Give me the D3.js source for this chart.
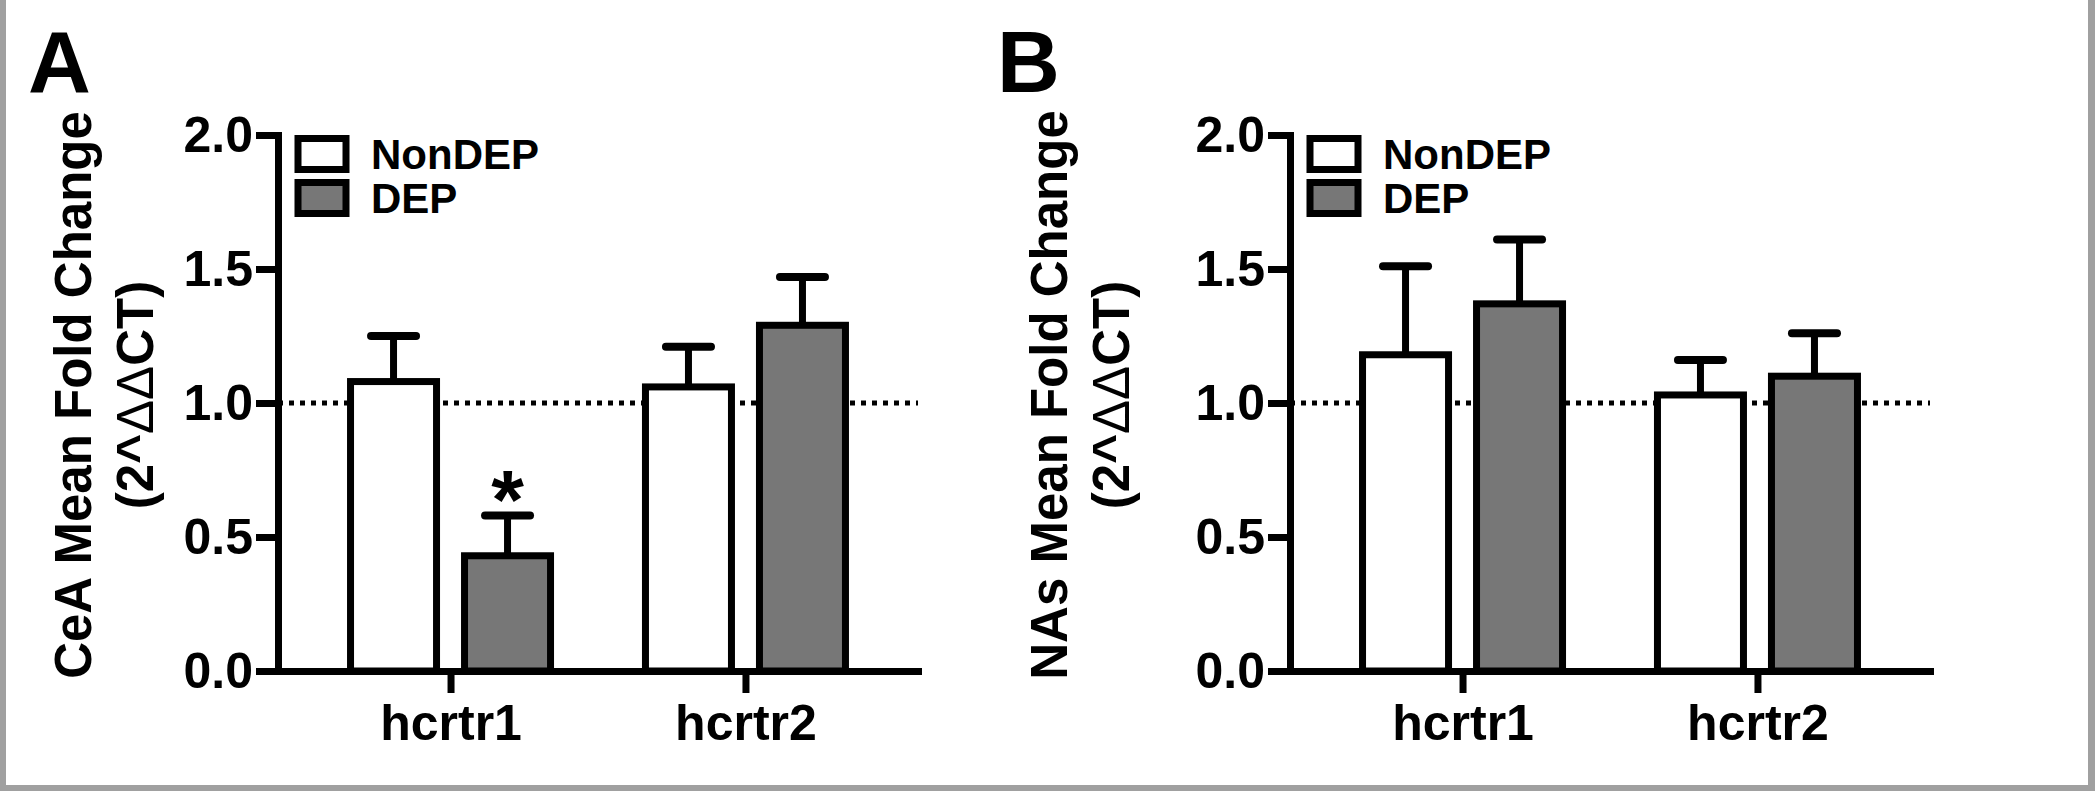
<!DOCTYPE html>
<html>
<head>
<meta charset="utf-8">
<script src="https://cdn.jsdelivr.net/npm/d3@7"></script>
<style>
  html, body { margin: 0; padding: 0; background: #fff; }
  svg { display: block; }
  text { font-family: "Liberation Sans", Arial, sans-serif; font-weight: bold; fill: #000; }
</style>
</head>
<body>
<svg id="chart" width="2095" height="791"></svg>
<script>
// ---------------- data ----------------
const categories = ["hcrtr1", "hcrtr2"];
const seriesNames = ["NonDEP", "DEP"];
const seriesFill = ["#ffffff", "#777777"];
const yTicks = [0, 0.5, 1.0, 1.5, 2.0];
const yTickLabels = ["0.0", "0.5", "1.0", "1.5", "2.0"];
const referenceLevel = 1.0;

// Panel A: CeA
const ceaNonDEP = [1.08, 1.06];
const ceaNonDEPsem = [0.17, 0.15];
const ceaDEP = [0.43, 1.29];
const ceaDEPsem = [0.15, 0.18];
// significance marks, indexed category*2 + series (hcrtr1 NonDEP, hcrtr1 DEP, hcrtr2 NonDEP, hcrtr2 DEP)
const ceaStars = ["", "*", "", ""];
// Panel B: NAs
const nasNonDEP = [1.18, 1.03];
const nasNonDEPsem = [0.33, 0.13];
const nasDEP = [1.37, 1.10];
const nasDEPsem = [0.24, 0.16];
const nasStars = ["", "", "", ""];

const panels = [
  { letter: "A", title: "CeA Mean Fold Change", means: [ceaNonDEP, ceaDEP], sems: [ceaNonDEPsem, ceaDEPsem], stars: ceaStars,
    letterX: 28, titleX: 91, axisX: 278 },
  { letter: "B", title: "NAs Mean Fold Change", means: [nasNonDEP, nasDEP], sems: [nasNonDEPsem, nasDEPsem], stars: nasStars,
    letterX: 997, titleX: 1067, axisX: 1290 }
];

// ---------------- layout ----------------
const svg = d3.select("#chart");
const W = 2095, H = 791;
svg.append("rect").attr("x", 0).attr("y", 0).attr("width", W).attr("height", H).attr("fill", "#fff");
// grey frame (left, right, bottom)
svg.append("rect").attr("x", 0).attr("y", 0).attr("width", 6).attr("height", H).attr("fill", "#a0a0a0");
svg.append("rect").attr("x", W - 7).attr("y", 0).attr("width", 7).attr("height", H).attr("fill", "#a0a0a0");
svg.append("rect").attr("x", 0).attr("y", H - 6).attr("width", W).attr("height", 6).attr("fill", "#a0a0a0");

const yTop = 135, yBottom = 671;
const plotW = 640;
const SW = 7;           // line weight
const barW = 86;        // bar width (stroke centre-line)
const capW = 45;

const y = d3.scaleLinear().domain([0, 2]).range([yBottom, yTop]);

panels.forEach(p => {
  const g = svg.append("g");
  const x = d3.scalePoint().domain(categories).range([p.axisX, p.axisX + plotW]).padding(0.585);
  const xSub = d3.scaleBand().domain(seriesNames).range([-114, 114]);

  // panel letter
  g.append("text").attr("x", p.letterX).attr("y", 92).attr("font-size", 87).text(p.letter);

  // y title (two lines)
  const cy = 395;
  g.append("text")
    .attr("transform", `translate(${p.titleX},${cy}) rotate(-90)`)
    .attr("text-anchor", "middle").attr("font-size", 51)
    .text(p.title);
  const t2 = g.append("text")
    .attr("transform", `translate(${p.titleX + 62},${cy}) rotate(-90)`)
    .attr("text-anchor", "middle").attr("font-size", 51);
  t2.append("tspan").text("(2^");
  t2.append("tspan").attr("font-weight", "normal").text("ΔΔ");
  t2.append("tspan").text("CT)");

  // dotted reference line at 1.0
  g.append("line")
    .attr("x1", p.axisX).attr("x2", p.axisX + plotW)
    .attr("y1", y(referenceLevel)).attr("y2", y(referenceLevel))
    .attr("stroke", "#000").attr("stroke-width", 5).attr("stroke-dasharray", "5 6");

  // bars + error bars
  categories.forEach((c, ci) => {
    seriesNames.forEach((s, si) => {
      const v = p.means[si][ci];
      const e = p.sems[si][ci];
      const cx = x(c) + xSub(s) + xSub.bandwidth() / 2;
      // error stem
      g.append("line").attr("x1", cx).attr("x2", cx)
        .attr("y1", y(v)).attr("y2", y(v + e))
        .attr("stroke", "#000").attr("stroke-width", SW);
      g.append("line").attr("x1", cx - capW / 2).attr("x2", cx + capW / 2)
        .attr("y1", y(v + e)).attr("y2", y(v + e))
        .attr("stroke", "#000").attr("stroke-width", 8).attr("stroke-linecap", "round");
      g.append("rect")
        .attr("x", cx - barW / 2).attr("y", y(v))
        .attr("width", barW).attr("height", y(0) - y(v))
        .attr("fill", seriesFill[si]).attr("stroke", "#000").attr("stroke-width", SW);
      const star = p.stars[ci * 2 + si];
      if (star) {
        g.append("text").attr("x", cx).attr("y", y(v + e) + 13)
          .attr("text-anchor", "middle").attr("font-size", 84).text(star);
      }
    });
  });

  // y axis
  const yAxis = d3.axisLeft(y).tickValues(yTicks)
    .tickFormat((d, i) => yTickLabels[i]).tickSize(22).tickSizeOuter(0).tickPadding(3);
  const ya = g.append("g").attr("transform", `translate(${p.axisX},0)`).call(yAxis);
  ya.select(".domain").attr("stroke", "#000").attr("stroke-width", SW).attr("stroke-linecap", "square");
  ya.selectAll(".tick line").attr("stroke", "#000").attr("stroke-width", SW);
  ya.selectAll(".tick text").attr("font-size", 50).attr("fill", "#000");
  ya.attr("font-family", null).attr("font-size", null);

  // x axis
  const xAxis = d3.axisBottom(x).tickSize(22).tickSizeOuter(0).tickPadding(11);
  const xa = g.append("g").attr("transform", `translate(0,${yBottom})`).call(xAxis);
  xa.select(".domain").attr("stroke", "#000").attr("stroke-width", SW).attr("stroke-linecap", "square");
  xa.selectAll(".tick line").attr("stroke", "#000").attr("stroke-width", SW);
  xa.selectAll(".tick text").attr("font-size", 50).attr("fill", "#000");
  xa.attr("font-family", null).attr("font-size", null);

  // legend
  const lx = p.axisX + 20;
  seriesNames.forEach((s, si) => {
    const ly = 138.5 + si * 44;
    g.append("rect").attr("x", lx).attr("y", ly).attr("width", 48).attr("height", 31)
      .attr("fill", seriesFill[si]).attr("stroke", "#000").attr("stroke-width", SW);
    g.append("text").attr("x", p.axisX + 93).attr("y", ly + 30).attr("font-size", 42).text(s);
  });
});
</script>
</body>
</html>
